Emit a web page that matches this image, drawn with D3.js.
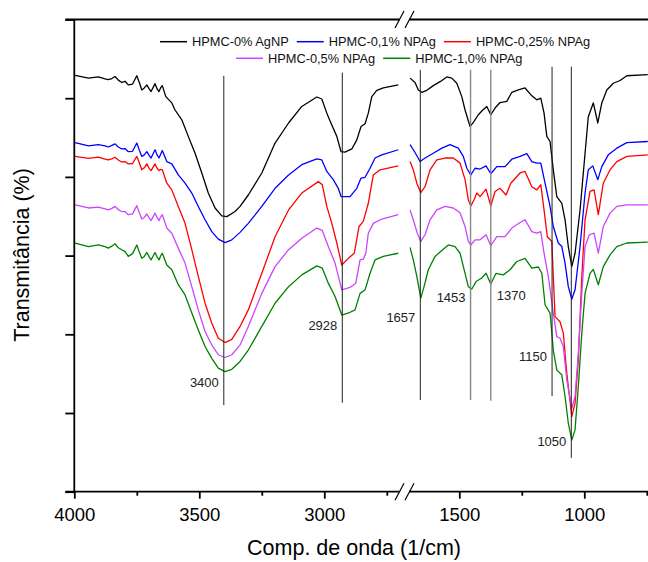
<!DOCTYPE html>
<html>
<head>
<meta charset="utf-8">
<script src="https://cdn.jsdelivr.net/npm/d3@7/dist/d3.min.js"></script>
<style>
  body { margin: 0; background: #fff; }
  text { font-family: "Liberation Sans", Arial, sans-serif; }
</style>
</head>
<body>
<div id="chart"></div>
<script>
// series names + colours (legend order)
const seriesNames = ["HPMC-0% AgNP", "HPMC-0,1% NPAg", "HPMC-0,25% NPAg", "HPMC-0,5% NPAg", "HPMC-1,0% NPAg"];
const seriesColors = ["#000000", "#0000ff", "#ff0000", "#cc44ff", "#008000"];

// [wavenumber, transmittance]
const hpmc0 = [[3997,105.8],[3943,105.1],[3904,105.4],[3877,104.9],[3864,104.7],[3850,105.0],[3837,105.5],[3824,104.6],[3810,104.0],[3797,104.3],[3784,103.4],[3767,103.6],[3750,105.7],[3740,104.0],[3730,102.1],[3720,102.6],[3710,103.4],[3700,102.3],[3693,101.7],[3677,103.7],[3669,102.4],[3661,101.7],[3655,102.6],[3648,103.2],[3634,100.4],[3610,98.8],[3597,97.0],[3570,94.5],[3544,90.3],[3517,86.0],[3490,81.0],[3464,75.9],[3437,72.1],[3410,70.1],[3390,69.9],[3357,71.2],[3337,72.5],[3304,75.4],[3250,81.0],[3197,88.6],[3143,93.7],[3090,97.9],[3030,100.3],[3010,99.8],[2990,96.2],[2970,93.2],[2950,90.3],[2933,86.4],[2917,86.3],[2890,87.1],[2870,89.4],[2853,92.8],[2837,93.5],[2824,96.2],[2810,100.4],[2790,102.0],[2764,102.6],[2704,103.4],
  [1697,105.1],[1677,104.0],[1664,102.1],[1650,101.5],[1630,102.0],[1604,103.2],[1577,104.2],[1550,105.4],[1530,105.1],[1510,103.8],[1490,100.4],[1477,97.0],[1457,92.8],[1441,94.1],[1424,95.8],[1406,97.0],[1390,97.9],[1374,95.8],[1357,97.5],[1337,98.9],[1310,99.2],[1290,101.5],[1264,102.1],[1237,102.6],[1210,100.6],[1190,99.6],[1174,100.0],[1161,96.2],[1150,90.3],[1137,89.0],[1124,81.8],[1110,75.0],[1090,73.3],[1077,69.1],[1064,62.3],[1050,57.2],[1037,60.6],[1017,71.6],[997,86.0],[984,95.3],[964,98.8],[946,93.7],[930,98.8],[910,102.1],[884,103.8],[857,104.5],[830,105.7],[746,106.0]];
const hpmc01 = [[3997,88.7],[3943,87.9],[3904,88.2],[3877,87.9],[3864,87.6],[3850,88.0],[3837,88.4],[3824,87.6],[3810,87.1],[3797,87.2],[3784,86.4],[3767,86.5],[3750,88.6],[3740,86.8],[3730,85.2],[3720,85.6],[3710,86.4],[3700,85.4],[3693,84.8],[3677,86.9],[3669,85.6],[3661,84.8],[3655,85.7],[3648,86.7],[3630,83.9],[3610,83.3],[3584,80.5],[3557,78.4],[3530,75.9],[3504,72.5],[3477,69.1],[3450,66.1],[3424,64.2],[3397,63.3],[3370,64.0],[3337,65.9],[3304,68.2],[3250,72.5],[3197,77.1],[3143,80.5],[3090,83.1],[3030,84.6],[3010,84.3],[2990,81.4],[2964,79.3],[2944,77.1],[2933,75.0],[2897,75.0],[2870,77.1],[2853,79.7],[2837,79.9],[2817,82.2],[2797,84.8],[2770,85.6],[2704,86.9],
  [1697,88.2],[1677,86.2],[1657,83.9],[1637,84.8],[1604,86.0],[1570,87.3],[1537,88.2],[1504,87.3],[1484,85.2],[1470,82.2],[1454,80.5],[1437,82.2],[1417,82.0],[1393,82.8],[1374,80.8],[1350,82.6],[1317,82.6],[1290,84.5],[1257,85.2],[1230,85.9],[1210,83.9],[1190,83.5],[1174,83.5],[1157,78.4],[1137,72.5],[1124,67.4],[1104,63.2],[1090,62.3],[1077,58.1],[1064,52.1],[1050,48.9],[1037,51.3],[1017,62.3],[997,75.9],[984,81.8],[966,82.8],[946,79.3],[930,82.6],[904,85.6],[870,87.3],[830,88.7],[746,89.0]];
const hpmc025 = [[3997,85.2],[3943,84.7],[3904,85.0],[3877,84.5],[3864,84.3],[3850,84.6],[3837,85.0],[3824,84.3],[3810,83.8],[3797,83.9],[3784,83.3],[3767,83.4],[3750,85.2],[3740,83.6],[3730,81.8],[3720,82.3],[3710,83.3],[3700,82.1],[3693,81.6],[3677,83.3],[3669,82.2],[3661,81.6],[3655,81.9],[3648,81.8],[3630,78.4],[3610,76.7],[3584,72.5],[3557,68.2],[3530,61.5],[3504,54.7],[3477,47.9],[3450,42.8],[3424,39.0],[3397,37.9],[3370,38.7],[3337,42.0],[3304,46.2],[3250,55.5],[3197,64.8],[3143,71.6],[3090,75.9],[3024,78.8],[3008,78.0],[2990,72.5],[2970,68.2],[2950,63.2],[2930,57.6],[2904,59.3],[2880,60.6],[2861,67.4],[2844,68.7],[2824,73.3],[2804,80.5],[2777,81.8],[2704,82.8],
  [1697,83.9],[1684,81.8],[1670,78.4],[1654,76.0],[1637,77.5],[1617,81.8],[1590,84.3],[1557,84.8],[1524,84.8],[1497,83.5],[1477,79.3],[1464,74.2],[1454,72.6],[1441,74.2],[1430,75.9],[1417,75.0],[1393,76.9],[1374,72.6],[1357,76.3],[1337,77.1],[1313,75.4],[1294,78.4],[1257,81.0],[1237,81.4],[1210,77.5],[1190,76.7],[1174,78.0],[1161,71.6],[1148,64.8],[1130,63.6],[1117,44.5],[1097,43.2],[1084,40.3],[1070,30.1],[1050,19.1],[1037,22.5],[1024,33.5],[1010,54.7],[997,69.1],[977,76.3],[961,76.7],[944,70.4],[924,78.4],[897,81.8],[870,83.9],[830,85.2],[746,85.6]];
const hpmc05 = [[3997,72.9],[3943,72.1],[3904,72.3],[3877,71.9],[3864,71.6],[3850,72.0],[3837,72.5],[3824,71.7],[3810,71.2],[3797,71.2],[3784,70.4],[3767,70.6],[3750,72.7],[3740,70.9],[3730,69.3],[3720,69.7],[3710,70.6],[3700,69.5],[3693,68.9],[3677,70.8],[3669,69.7],[3661,68.9],[3655,69.8],[3648,70.4],[3630,67.0],[3610,65.7],[3584,61.9],[3557,58.1],[3530,52.1],[3504,46.2],[3477,40.7],[3450,37.3],[3424,34.8],[3397,34.1],[3370,34.8],[3337,37.3],[3304,42.0],[3250,50.4],[3197,57.2],[3143,61.5],[3090,64.4],[3030,67.0],[3008,66.4],[2984,62.3],[2957,58.1],[2930,51.3],[2897,51.9],[2874,53.0],[2857,58.9],[2844,59.1],[2834,60.6],[2824,65.7],[2804,68.2],[2770,69.3],[2704,70.4],
  [1697,71.6],[1684,69.1],[1668,65.7],[1654,63.6],[1637,65.3],[1617,69.1],[1590,71.6],[1557,72.5],[1524,72.1],[1497,70.9],[1477,67.4],[1464,63.6],[1454,62.7],[1437,64.0],[1417,64.0],[1393,65.3],[1374,62.5],[1350,64.8],[1317,64.8],[1290,67.0],[1257,68.4],[1237,69.1],[1210,66.1],[1190,65.7],[1174,66.1],[1161,60.6],[1144,54.7],[1124,45.4],[1110,39.4],[1097,39.0],[1084,36.9],[1070,28.4],[1050,21.2],[1037,24.2],[1024,35.2],[1010,50.4],[997,62.3],[980,65.3],[961,65.7],[944,60.6],[924,67.4],[897,70.8],[870,72.5],[830,72.9],[746,72.9]];
const hpmc10 = [[3997,63.2],[3943,62.3],[3904,62.7],[3877,62.3],[3864,61.9],[3850,62.4],[3837,63.0],[3824,62.0],[3810,61.5],[3797,61.0],[3784,59.8],[3767,60.5],[3750,62.7],[3740,60.9],[3730,59.3],[3720,59.8],[3710,60.8],[3700,59.6],[3693,58.9],[3677,60.8],[3669,59.7],[3661,58.9],[3655,59.9],[3648,60.6],[3630,57.6],[3610,56.4],[3584,52.6],[3557,50.0],[3530,45.4],[3504,41.1],[3477,36.9],[3450,33.9],[3424,31.4],[3397,30.5],[3370,31.1],[3337,33.1],[3304,36.0],[3250,42.0],[3197,47.9],[3143,52.1],[3090,55.1],[3030,57.4],[3008,56.8],[2984,53.0],[2957,49.6],[2930,44.9],[2897,45.6],[2877,46.2],[2857,50.4],[2837,51.3],[2817,55.5],[2797,58.9],[2764,59.8],[2704,60.6],
  [1697,62.1],[1684,58.9],[1670,54.7],[1654,49.2],[1641,52.1],[1624,56.4],[1597,59.8],[1570,61.3],[1544,62.7],[1517,62.3],[1497,60.6],[1477,55.5],[1464,52.1],[1450,51.5],[1433,53.4],[1410,54.3],[1393,55.5],[1374,52.8],[1353,55.5],[1324,55.1],[1297,56.4],[1270,58.5],[1237,59.3],[1210,56.8],[1184,57.1],[1170,55.5],[1157,47.5],[1137,45.4],[1124,36.0],[1110,30.9],[1090,29.7],[1077,24.2],[1064,17.4],[1050,13.1],[1037,15.7],[1024,26.7],[1010,40.3],[997,50.4],[977,55.5],[964,56.5],[944,52.6],[924,57.2],[897,60.2],[870,62.3],[830,63.2],[746,63.4]];
const allSeries = [hpmc0, hpmc01, hpmc025, hpmc05, hpmc10];

// peak annotations
const peakLabels = ["3400", "2928", "1657", "1453", "1370", "1150", "1050"];
const peakLinePos = [3402, 2928, 1656, 1455, 1374, 1129, 1052];
const peakLineTop = [105.7, 106.5, 107.2, 107.2, 107.2, 108, 108];
const peakLineBottom = [22.0, 22.6, 23.3, 23.3, 23.1, 24.3, 8.6];
const peakLabelY = [26.5, 41.1, 43.0, 48.1, 48.6, 33.2, 11.5];

// axes ticks
const leftMajor = [4000, 3500, 3000], leftMinor = [3750, 3250, 2750];
const rightMajor = [1500, 1000], rightMinor = [1250, 750];
const yTicks = [0, 20, 40, 60, 80, 100, 120];

const width = 648, height = 562;
const plotTop = 19.5, plotBottom = 491.7, plotLeft = 74.3;
const xLeft = d3.scaleLinear().domain([4000, 2700]).range([plotLeft, plotLeft + 325]);
const xRight = d3.scaleLinear().domain([1700, 700]).range([409.3, 659.3]);
const y = d3.scaleLinear().domain([0, 120]).range([plotBottom, plotTop]);
const xOf = wn => wn > 2000 ? xLeft(wn) : xRight(wn);

const svg = d3.select("#chart").append("svg").attr("width", width).attr("height", height);

svg.append("clipPath").attr("id", "clipL").append("rect")
    .attr("x", plotLeft).attr("y", plotTop).attr("width", 325).attr("height", plotBottom - plotTop);
svg.append("clipPath").attr("id", "clipR").append("rect")
    .attr("x", 409.3).attr("y", plotTop).attr("width", width - 409.3).attr("height", plotBottom - plotTop);

//---curves---
const line = d3.line().x(d => xOf(d[0])).y(d => y(d[1]));
allSeries.forEach((s, i) => {
    const sorted = s.slice().sort((a, b) => b[0] - a[0]);
    const leftPart = sorted.filter(d => d[0] > 2000);
    const rightPart = sorted.filter(d => d[0] < 2000);
    svg.append("path").attr("d", line(leftPart)).attr("clip-path", "url(#clipL)")
        .attr("fill", "none").attr("stroke", seriesColors[i]).attr("stroke-width", 1.3)
        .attr("stroke-linejoin", "round");
    svg.append("path").attr("d", line(rightPart)).attr("clip-path", "url(#clipR)")
        .attr("fill", "none").attr("stroke", seriesColors[i]).attr("stroke-width", 1.3)
        .attr("stroke-linejoin", "round");
});

//---peak lines + labels---
peakLabels.forEach((lab, i) => {
    const px = xOf(peakLinePos[i]);
    const grey = (lab === "1453" || lab === "1370");
    svg.append("line")
        .attr("x1", px).attr("x2", px)
        .attr("y1", y(peakLineTop[i])).attr("y2", y(peakLineBottom[i]))
        .attr("stroke", grey ? "#888" : "#222").attr("stroke-width", grey ? 1.4 : 1);
    const after = lab === "1370";
    svg.append("text")
        .attr("x", after ? px + 6 : px - 5)
        .attr("y", y(peakLabelY[i]))
        .attr("text-anchor", after ? "start" : "end")
        .attr("font-size", "13px").attr("fill", "#222")
        .text(lab);
});

//---axes---
const axisG = svg.append("g").attr("stroke", "#000").attr("stroke-width", 1.8);
// top frame + bottom axis, broken between panels
[plotTop, plotBottom].forEach(yy => {
    axisG.append("line").attr("x1", plotLeft - 9).attr("x2", 400).attr("y1", yy).attr("y2", yy);
    axisG.append("line").attr("x1", 409).attr("x2", width).attr("y1", yy).attr("y2", yy);
    [399.5, 409.5].forEach(bx => {
        axisG.append("line").attr("stroke-width", 1.2)
            .attr("x1", bx - 4.5).attr("x2", bx + 4.5)
            .attr("y1", yy + 8.5).attr("y2", yy - 8.5);
    });
});
axisG.append("line").attr("x1", plotLeft).attr("x2", plotLeft).attr("y1", plotTop).attr("y2", plotBottom);

// y ticks, no labels
svg.append("g").attr("transform", `translate(${plotLeft},0)`)
    .call(d3.axisLeft(y).tickValues(yTicks).tickSize(9).tickFormat(""))
    .call(g => g.select(".domain").remove())
    .call(g => g.selectAll("line").attr("stroke-width", 1.8));

function xAxis(scale, major, minor) {
    const g = svg.append("g").attr("transform", `translate(0,${plotBottom})`);
    g.call(d3.axisBottom(scale).tickValues(major).tickSize(7).tickPadding(9).tickFormat(d3.format("d")))
        .call(g => g.select(".domain").remove())
        .call(g => g.selectAll("line").attr("stroke-width", 1.8))
        .call(g => g.selectAll("text").attr("font-size", "18.5px").attr("fill", "#000")
            .attr("font-family", "Liberation Sans, Arial, sans-serif"));
    const g2 = svg.append("g").attr("transform", `translate(0,${plotBottom})`);
    g2.call(d3.axisBottom(scale).tickValues(minor).tickSize(4).tickFormat(""))
        .call(g => g.select(".domain").remove())
        .call(g => g.selectAll("line").attr("stroke-width", 1.8));
}
xAxis(xLeft, leftMajor, leftMinor);
xAxis(xRight, rightMajor, rightMinor);

svg.append("text").attr("x", 354).attr("y", 555).attr("text-anchor", "middle")
    .attr("font-size", "21.5px").text("Comp. de onda (1/cm)");
svg.append("text").attr("transform", "translate(29,255) rotate(-90)").attr("text-anchor", "middle")
    .attr("font-size", "21.5px").text("Transmitância (%)");

//---legend---
const legendRows = [[0, 1, 2], [3, 4]];
const legendStart = [160, 236];
const legendY = [41.7, 58.3];
legendRows.forEach((row, r) => {
    let cx = legendStart[r];
    row.forEach(i => {
        svg.append("line").attr("x1", cx).attr("x2", cx + 27)
            .attr("y1", legendY[r]).attr("y2", legendY[r])
            .attr("stroke", seriesColors[i]).attr("stroke-width", 1.5);
        const t = svg.append("text").attr("x", cx + 32).attr("y", legendY[r] + 4.6)
            .attr("font-size", "12.8px").attr("fill", "#111").text(seriesNames[i]);
        cx += 32 + t.node().getComputedTextLength() + 8;
    });
});
</script>
</body>
</html>
